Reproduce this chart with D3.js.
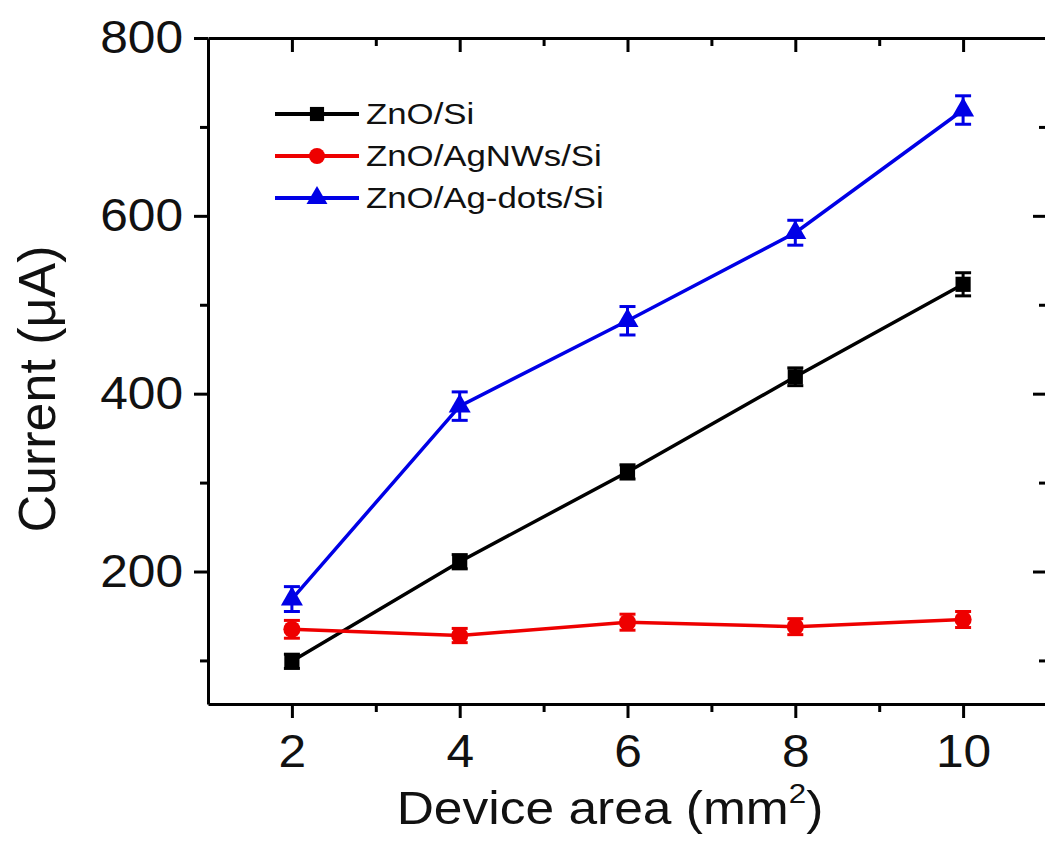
<!DOCTYPE html>
<html>
<head>
<meta charset="utf-8">
<script src="https://cdn.jsdelivr.net/npm/d3@7"></script>
<style>
  body { margin: 0; background: #fff; }
  svg { display: block; font-family: "Liberation Sans", Arial, sans-serif; }
</style>
</head>
<body>
<svg id="chart"></svg>
<script>
// device areas (mm^2)
const areas = [2, 4, 6, 8, 10];

// currents (uA), with error bar half-widths
const znoSi = [99, 211, 312, 419, 523];
const znoSiErr = [8, 8, 8, 10, 13];
const znoAgNWs = [135, 128, 143, 138, 146];
const znoAgNWsErr = [10, 8, 9, 9, 9];
const znoAgDots = [169, 386, 482, 581, 719];
const znoAgDotsErr = [14, 16, 16, 14, 16];

const seriesNames = ['ZnO/Si', 'ZnO/AgNWs/Si', 'ZnO/Ag-dots/Si'];
const seriesColors = ['#000000', '#ee0000', '#0000e6'];
const seriesShapes = ['square', 'circle', 'triangle'];

const xTicks = [2, 4, 6, 8, 10];
const xMinor = [3, 5, 7, 9];
const yTicks = [200, 400, 600, 800];
const yMinor = [100, 300, 500, 700];

const W = 1045, H = 842;
const plotLeft = 208, plotRight = 1047, plotTop = 38, plotBottom = 704;
// the source image is a bit wider than plain Arial, so text gets a horizontal stretch
const tickFont = 46, tickStretch = 1.08;

const svg = d3.select('#chart').attr('width', W).attr('height', H);

const x = d3.scaleLinear().domain([1, 11]).range([plotLeft, plotRight]);
const y = d3.scaleLinear().domain([51, 800]).range([plotBottom, plotTop]);

const series = [
    {values: znoSi, err: znoSiErr},
    {values: znoAgNWs, err: znoAgNWsErr},
    {values: znoAgDots, err: znoAgDotsErr}
].map(function (s, i) {
    return {
        name: seriesNames[i],
        color: seriesColors[i],
        shape: seriesShapes[i],
        points: areas.map(function (a, j) {
            return {x: a, y: s.values[j], e: s.err[j]};
        })
    };
});

function symbolFor(shape) {
    if (shape === 'square') return d3.symbol().type(d3.symbolSquare).size(230);
    if (shape === 'circle') return d3.symbol().type(d3.symbolCircle).size(230);
    return d3.symbol().type(d3.symbolTriangle).size(210);
}

// axes
function styleAxis(g) {
    g.select('.domain').attr('stroke', '#000').attr('stroke-width', 3);
    g.selectAll('.tick line').attr('stroke', '#000').attr('stroke-width', 3);
    g.selectAll('.tick text')
        .attr('font-size', tickFont)
        .attr('fill', '#111');
}

let gx = svg.append('g').attr('transform', `translate(0,${plotBottom})`)
    .call(d3.axisBottom(x).tickValues(xTicks).tickSize(14).tickPadding(16).tickSizeOuter(0));
styleAxis(gx);
gx.selectAll('.tick text').attr('transform', `scale(${tickStretch},1)`);
svg.append('g').attr('transform', `translate(0,${plotBottom})`)
    .call(d3.axisBottom(x).tickValues(xMinor).tickSize(8).tickFormat('').tickSizeOuter(0))
    .call(styleAxis)
    .select('.domain').remove();

let gy = svg.append('g').attr('transform', `translate(${plotLeft},0)`)
    .call(d3.axisLeft(y).tickValues(yTicks).tickSize(14).tickPadding(11).tickSizeOuter(0));
styleAxis(gy);
gy.selectAll('.tick text')
    .attr('x', -25 / tickStretch)
    .attr('transform', `scale(${tickStretch},1)`);
svg.append('g').attr('transform', `translate(${plotLeft},0)`)
    .call(d3.axisLeft(y).tickValues(yMinor).tickSize(8).tickFormat('').tickSizeOuter(0))
    .call(styleAxis)
    .select('.domain').remove();

// mirrored top and right axes, ticks pointing inward
let gt = svg.append('g').attr('transform', `translate(0,${plotTop})`)
    .call(d3.axisBottom(x).tickValues(xTicks).tickSize(14).tickFormat('').tickSizeOuter(0));
styleAxis(gt);
svg.append('g').attr('transform', `translate(0,${plotTop})`)
    .call(d3.axisBottom(x).tickValues(xMinor).tickSize(8).tickFormat('').tickSizeOuter(0))
    .call(styleAxis)
    .select('.domain').remove();

let gr = svg.append('g').attr('transform', `translate(${plotRight},0)`)
    .call(d3.axisLeft(y).tickValues(yTicks).tickSize(14).tickFormat('').tickSizeOuter(0));
styleAxis(gr);
svg.append('g').attr('transform', `translate(${plotRight},0)`)
    .call(d3.axisLeft(y).tickValues(yMinor).tickSize(8).tickFormat('').tickSizeOuter(0))
    .call(styleAxis)
    .select('.domain').remove();

// lines, error bars, markers
const line = d3.line().x(d => x(d.x)).y(d => y(d.y));

series.forEach(function (s) {
    let g = svg.append('g');
    g.append('path')
        .datum(s.points)
        .attr('d', line)
        .attr('fill', 'none')
        .attr('stroke', s.color)
        .attr('stroke-width', 3.5);

    let eb = g.selectAll('.err').data(s.points).enter().append('g');
    eb.append('line')
        .attr('x1', d => x(d.x)).attr('x2', d => x(d.x))
        .attr('y1', d => y(d.y + d.e)).attr('y2', d => y(d.y - d.e))
        .attr('stroke', s.color).attr('stroke-width', 3);
    eb.append('line')
        .attr('x1', d => x(d.x) - 8).attr('x2', d => x(d.x) + 8)
        .attr('y1', d => y(d.y + d.e)).attr('y2', d => y(d.y + d.e))
        .attr('stroke', s.color).attr('stroke-width', 3);
    eb.append('line')
        .attr('x1', d => x(d.x) - 8).attr('x2', d => x(d.x) + 8)
        .attr('y1', d => y(d.y - d.e)).attr('y2', d => y(d.y - d.e))
        .attr('stroke', s.color).attr('stroke-width', 3);

    g.selectAll('.mark').data(s.points).enter().append('path')
        .attr('d', symbolFor(s.shape))
        .attr('transform', d => `translate(${x(d.x)},${y(d.y)})`)
        .attr('fill', s.color);
});

// legend
const legend = svg.append('g').attr('transform', 'translate(275,114)');
series.forEach(function (s, i) {
    let row = legend.append('g').attr('transform', `translate(0,${i * 42})`);
    row.append('line')
        .attr('x1', 0).attr('x2', 84).attr('y1', 0).attr('y2', 0)
        .attr('stroke', s.color).attr('stroke-width', 4);
    row.append('path')
        .attr('d', symbolFor(s.shape).size(s.shape === 'triangle' ? 190 : 200))
        .attr('transform', 'translate(42,0)')
        .attr('fill', s.color);
    row.append('text')
        .attr('transform', 'translate(91,10) scale(1.2,1)')
        .attr('font-size', 29)
        .attr('fill', '#111')
        .text(s.name);
});

// axis titles
const xTitle = svg.append('text')
    .attr('transform', 'translate(610,824) scale(1.12,1)')
    .attr('text-anchor', 'middle')
    .attr('font-size', 46)
    .attr('fill', '#111');
xTitle.append('tspan').text('Device area (mm');
xTitle.append('tspan').attr('font-size', 28).attr('dy', -21).text('2');
xTitle.append('tspan').attr('dy', 21).text(')');

svg.append('text')
    .attr('transform', 'translate(55,389) rotate(-90)')
    .attr('text-anchor', 'middle')
    .attr('font-size', 52)
    .attr('fill', '#111')
    .text('Current (\u03bcA)');
</script>
</body>
</html>
